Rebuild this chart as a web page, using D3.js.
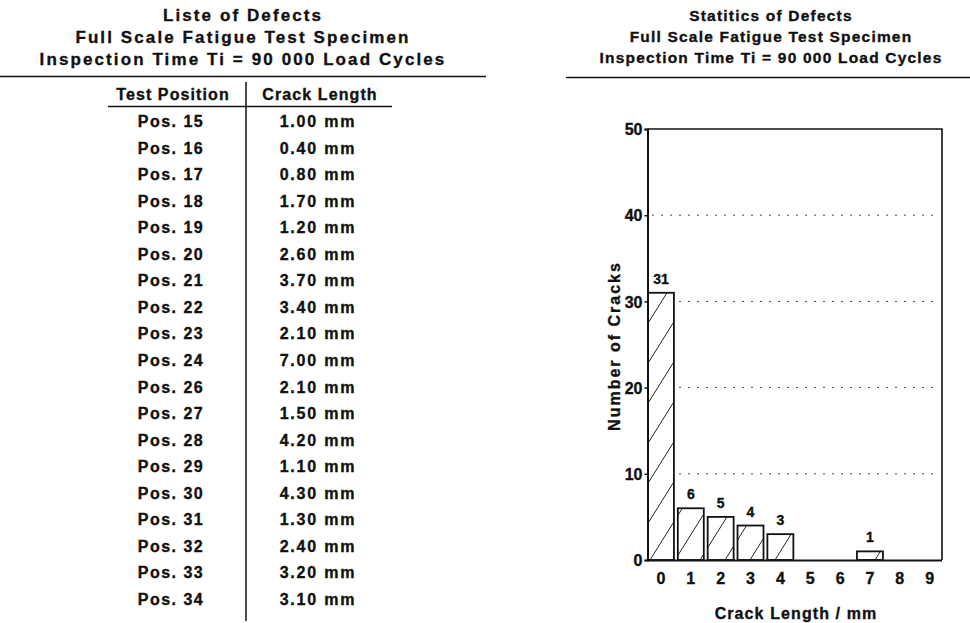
<!DOCTYPE html>
<html>
<head>
<meta charset="utf-8">
<script src="https://cdn.jsdelivr.net/npm/d3@7"></script>
<style>
  html, body { margin: 0; padding: 0; background: #fff; }
  svg text { font-family: "Liberation Sans", Arial, Helvetica, sans-serif; font-weight: bold; fill: #111; stroke: #111; stroke-width: 0.35px; }
</style>
</head>
<body>
<svg id="chart" width="970" height="623"></svg>
<script>
// ---------- data ----------
const leftTitle = ["Liste of Defects", "Full Scale Fatigue Test Specimen", "Inspection Time Ti = 90 000 Load Cycles"];
const rightTitle = ["Statitics of Defects", "Full Scale Fatigue Test Specimen", "Inspection Time Ti = 90 000 Load Cycles"];
const tableHeaders = ["Test Position", "Crack Length"];
const positions = ["Pos. 15","Pos. 16","Pos. 17","Pos. 18","Pos. 19","Pos. 20","Pos. 21","Pos. 22","Pos. 23","Pos. 24","Pos. 26","Pos. 27","Pos. 28","Pos. 29","Pos. 30","Pos. 31","Pos. 32","Pos. 33","Pos. 34"];
const crackLengths = ["1.00 mm","0.40 mm","0.80 mm","1.70 mm","1.20 mm","2.60 mm","3.70 mm","3.40 mm","2.10 mm","7.00 mm","2.10 mm","1.50 mm","4.20 mm","1.10 mm","4.30 mm","1.30 mm","2.40 mm","3.20 mm","3.10 mm"];
const binLabels = ["0","1","2","3","4","5","6","7","8","9"];
const crackCounts = [31, 6, 5, 4, 3, 0, 0, 1, 0, 0];
const yTicks = [0, 10, 20, 30, 40, 50];
const yLabel = "Number of Cracks";
const xLabel = "Crack Length / mm";

// ---------- drawing ----------
(function () {
const svg = d3.select("#chart");

// Left title block
svg.append("g").selectAll("text").data(leftTitle).join("text")
  .attr("x", 243).attr("y", (d, i) => 21 + i * 22)
  .attr("text-anchor", "middle").style("font-size", "17px").style("letter-spacing", "2.1px")
  .text(d => d);
svg.append("line").attr("x1", 0).attr("x2", 486).attr("y1", 76.5).attr("y2", 76.5)
  .attr("stroke", "#111").attr("stroke-width", 1.5);

// Right title block
svg.append("g").selectAll("text").data(rightTitle).join("text")
  .attr("x", 771).attr("y", (d, i) => 21 + i * 21)
  .attr("text-anchor", "middle").style("font-size", "15.5px").style("letter-spacing", "1.2px")
  .text(d => d);
svg.append("line").attr("x1", 566).attr("x2", 970).attr("y1", 77.5).attr("y2", 77.5)
  .attr("stroke", "#111").attr("stroke-width", 1.5);

// Table
const colX = [171, 318];
svg.append("g").selectAll("text").data(tableHeaders).join("text")
  .attr("x", (d, i) => colX[i] + 2).attr("y", 100)
  .attr("text-anchor", "middle").style("font-size", "16px").style("letter-spacing", "1.1px")
  .text(d => d);
svg.append("line").attr("x1", 108).attr("x2", 392).attr("y1", 106.5).attr("y2", 106.5)
  .attr("stroke", "#111").attr("stroke-width", 1.5);
svg.append("line").attr("x1", 246).attr("x2", 246).attr("y1", 82).attr("y2", 621)
  .attr("stroke", "#111").attr("stroke-width", 1.5);

const rowY = d3.scalePoint().domain(d3.range(positions.length)).range([127, 605]);
const rows = svg.append("g").selectAll("g").data(positions).join("g");
rows.append("text").attr("x", colX[0]).attr("y", (d, i) => rowY(i))
  .attr("text-anchor", "middle").style("font-size", "16px").style("letter-spacing", "1.5px")
  .text(d => d);
rows.append("text").attr("x", colX[1]).attr("y", (d, i) => rowY(i))
  .attr("text-anchor", "middle").style("font-size", "16px").style("letter-spacing", "1.8px")
  .text((d, i) => crackLengths[i]);

// Bar chart
const pLeft = 647.5, pRight = 942, pTop = 129, pBottom = 560;
const y = d3.scaleLinear().domain([0, 50]).range([pBottom, pTop]);
const x = d3.scaleBand().domain(binLabels).range([646, 944.6]).paddingInner(0.13).paddingOuter(0.065);

const defs = svg.append("defs");
const pat = defs.append("pattern").attr("id", "hatch").attr("patternUnits", "userSpaceOnUse")
  .attr("width", 25).attr("height", 40);
pat.append("rect").attr("width", 25).attr("height", 40).attr("fill", "#fff");
pat.append("path").attr("d", "M0,40 L25,0 M-2,3.2 L2,-3.2 M23,43.2 L27,36.8").attr("stroke", "#222").attr("stroke-width", 1);

// grid
svg.append("g").selectAll("line").data(yTicks.filter(t => t > 0 && t < 50)).join("line")
  .attr("x1", 652).attr("x2", 936).attr("y1", d => y(d)).attr("y2", d => y(d))
  .attr("stroke", "#444").attr("stroke-width", 1).attr("stroke-dasharray", "2,7");

// bars
svg.append("g").selectAll("rect").data(crackCounts).join("rect")
  .attr("x", (d, i) => x(binLabels[i]))
  .attr("y", d => y(d))
  .attr("width", x.bandwidth())
  .attr("height", d => pBottom - y(d))
  .attr("fill", "url(#hatch)")
  .attr("stroke", d => d > 0 ? "#111" : "none")
  .attr("stroke-width", 1.8);

// value labels
svg.append("g").selectAll("text").data(crackCounts.map((v, i) => ({v, i})).filter(d => d.v > 0)).join("text")
  .attr("x", d => x(binLabels[d.i]) + x.bandwidth() / 2)
  .attr("y", d => y(d.v) - 9)
  .attr("text-anchor", "middle").style("font-size", "14px")
  .text(d => d.v);

// frame
svg.append("path").attr("d", `M${pLeft},${pTop} L${pRight},${pTop} L${pRight},${pBottom}`)
  .attr("fill", "none").attr("stroke", "#111").attr("stroke-width", 1.6);

// axes
const yAxis = svg.append("g").attr("transform", `translate(${pLeft},0)`)
  .call(d3.axisLeft(y).tickValues(yTicks).tickSize(3).tickPadding(2));
yAxis.select(".domain").attr("stroke", "#111").attr("stroke-width", 2);
yAxis.selectAll(".tick line").attr("stroke", "#111").attr("stroke-width", 1.5);
yAxis.selectAll("text").style("font-size", "16px").style("font-family", "Liberation Sans, Arial, sans-serif")
  .style("font-weight", "bold").attr("fill", "#111").attr("dy", "0.36em");

const xAxis = svg.append("g").attr("transform", `translate(0,${pBottom})`)
  .call(d3.axisBottom(x).tickSize(0).tickPadding(13));
xAxis.select(".domain").attr("d", `M${pLeft},0.5 L${pRight},0.5`).attr("stroke", "#111").attr("stroke-width", 2.2);
xAxis.selectAll("text").style("font-size", "16px").style("font-family", "Liberation Sans, Arial, sans-serif")
  .style("font-weight", "bold").attr("fill", "#111");

// axis titles
svg.append("text").attr("x", 796).attr("y", 619)
  .attr("text-anchor", "middle").style("font-size", "16px").style("letter-spacing", "1.1px")
  .text(xLabel);
svg.append("text").attr("transform", "translate(620,346) rotate(-90)")
  .attr("text-anchor", "middle").style("font-size", "16px").style("letter-spacing", "2px")
  .text(yLabel);
})();
</script>
</body>
</html>
